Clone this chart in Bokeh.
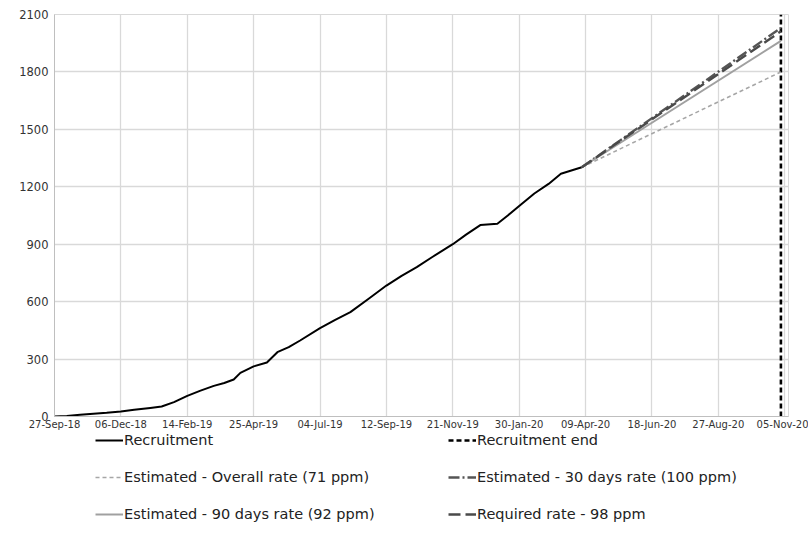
import pandas as pd
from bokeh.plotting import figure
from bokeh.layouts import column
from bokeh.models import Legend, LegendItem, FixedTicker, DatetimeTickFormatter, Range1d
from bokeh.embed import file_html
from bokeh.resources import INLINE

# Recruitment (cumulative)
rec_dates = ["2018-09-27", "2018-10-10", "2018-10-24", "2018-11-07", "2018-11-21", "2018-12-06",
             "2018-12-20", "2019-01-06", "2019-01-18", "2019-01-31", "2019-02-14", "2019-02-28",
             "2019-03-14", "2019-03-25", "2019-04-04", "2019-04-11", "2019-04-25", "2019-05-09",
             "2019-05-20", "2019-06-01", "2019-06-13", "2019-07-04", "2019-07-20", "2019-08-05",
             "2019-08-25", "2019-09-12", "2019-09-28", "2019-10-14", "2019-10-30", "2019-11-21",
             "2019-12-05", "2019-12-20", "2020-01-07", "2020-01-18", "2020-01-30", "2020-02-15",
             "2020-03-01", "2020-03-14", "2020-04-05"]
rec_values = [0, 3, 9, 14, 19, 26, 35, 45, 52, 75, 108, 135, 160, 175, 193, 228, 262, 282,
              336, 362, 397, 462, 505, 545, 618, 684, 735, 780, 832, 900, 950, 1000, 1007,
              1050, 1100, 1165, 1215, 1268, 1302]

# Projections from last recruitment point to recruitment end
proj_dates = ["2020-04-05", "2020-11-01"]
overall_values = [1302, 1800]
days30_values = [1302, 2030]
days90_values = [1302, 1962]
required_values = [1302, 2012]

recruitment_end = "2020-11-01"

tick_dates = ["2018-09-27", "2018-12-06", "2019-02-14", "2019-04-25", "2019-07-04", "2019-09-12",
              "2019-11-21", "2020-01-30", "2020-04-09", "2020-06-18", "2020-08-27", "2020-11-05"]
y_ticks = [0, 300, 600, 900, 1200, 1500, 1800, 2100]

labels = ["Recruitment", "Recruitment end", "Estimated - Overall rate (71 ppm)",
          "Estimated - 30 days rate (100 ppm)", "Estimated - 90 days rate (92 ppm)",
          "Required rate - 98 ppm"]

FONT = "DejaVu Sans"

styles = [
    dict(line_color="black", line_width=2),
    dict(line_color="black", line_width=2.6, line_dash="5 3"),
    dict(line_color="#a6a6a6", line_width=1.6, line_dash="4 3"),
    dict(line_color="#555555", line_width=2.4, line_dash="11 3 2 3"),
    dict(line_color="#a0a0a0", line_width=2),
    dict(line_color="#4a4a4a", line_width=2.4, line_dash="12 5"),
]

rd = pd.to_datetime(rec_dates)
pdt = pd.to_datetime(proj_dates)
end_dt = pd.to_datetime(recruitment_end)

x0 = pd.Timestamp("2018-09-27")
x1 = pd.Timestamp("2020-11-09")

p = figure(width=808, height=432, x_axis_type="datetime", output_backend="svg",
           toolbar_location=None,
           x_range=Range1d(x0, x1), y_range=Range1d(0, 2100),
           min_border_left=54, min_border_right=20, min_border_top=14, min_border_bottom=16)

p.outline_line_color = "#d9d9d9"
p.xgrid.grid_line_color = "#d9d9d9"
p.ygrid.grid_line_color = "#d9d9d9"
p.xgrid.grid_line_width = 1.3
p.ygrid.grid_line_width = 1.3

tick_ms = [pd.Timestamp(d).value / 1e6 for d in tick_dates]
p.xaxis.ticker = FixedTicker(ticks=tick_ms)
p.xaxis.formatter = DatetimeTickFormatter(days="%d-%b-%y", months="%d-%b-%y", years="%d-%b-%y")
p.yaxis.ticker = FixedTicker(ticks=y_ticks)

for ax in (p.xaxis[0], p.yaxis[0]):
    ax.axis_line_color = "#bfbfbf"
    ax.major_tick_line_color = None
    ax.minor_tick_line_color = None
    ax.major_tick_out = 0
    ax.major_tick_in = 0
    ax.minor_tick_out = 0
    ax.minor_tick_in = 0
    ax.major_label_text_font = FONT
    ax.major_label_text_color = "#333333"
p.xaxis.major_label_text_font_size = "10px"
p.xaxis.major_label_standoff = 2
p.yaxis.major_label_text_font_size = "11.5px"
p.yaxis.major_label_standoff = 6

p.line(rd, rec_values, **styles[0])
p.line([end_dt, end_dt], [0, 2100], **styles[1])
p.line(pdt, overall_values, **styles[2])
p.line(pdt, days30_values, **styles[3])
p.line(pdt, days90_values, **styles[4])
p.line(pdt, required_values, **styles[5])

# Legend panel below the chart (swatch renderers carry no visible data)
q = figure(width=808, height=113, output_backend="svg", toolbar_location=None,
           x_axis_location=None, y_axis_location=None,
           min_border_left=54, min_border_right=20, min_border_top=0, min_border_bottom=0,
           x_range=Range1d(0, 1), y_range=Range1d(0, 1))
q.outline_line_color = None
q.grid.visible = False
nan = float("nan")
rends = [q.line([nan, nan], [nan, nan], **s) for s in styles]
order = [0, 2, 4, 1, 3, 5]
items = [LegendItem(label=labels[i], renderers=[rends[i]]) for i in order]
legend = Legend(items=items, ncols=2, location=(41, 23),
                label_text_font=FONT, label_text_font_size="14.5px", label_text_color="#222222",
                glyph_width=28, glyph_height=16, label_height=16, label_standoff=1,
                label_width=303, spacing=21, padding=0, margin=0,
                border_line_color=None, background_fill_alpha=0)
q.add_layout(legend, "center")

open("out.html", "w").write(file_html(column(p, q, spacing=0), INLINE))
